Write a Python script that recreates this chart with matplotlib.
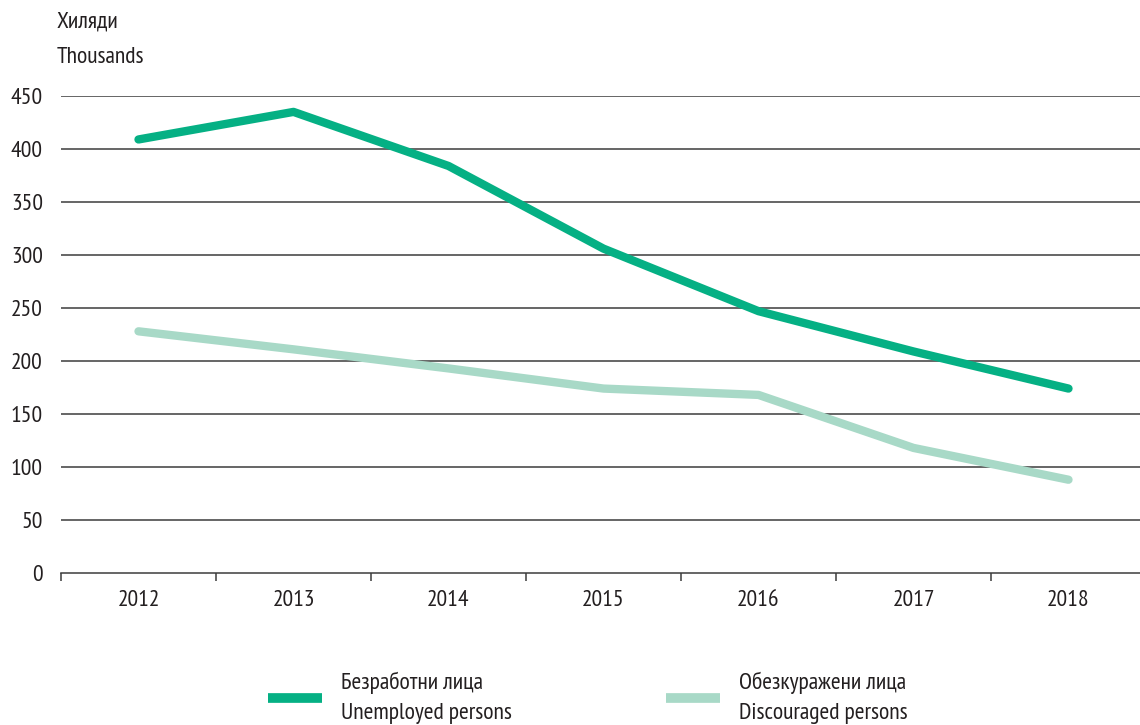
import matplotlib.pyplot as plt
from matplotlib.ticker import FixedLocator

plt.rcParams['font.family'] = ['PT Sans Narrow', 'DejaVu Sans']

color1 = '#05b084'
color2 = '#a8d9c7'
grid_color = '#3c3c3c'
text_color = '#231f20'

years = ['2012', '2013', '2014', '2015', '2016', '2017', '2018']
unemployed = [409, 435, 384, 306, 247, 209, 174]
discouraged = [228, 211, 193, 174, 168, 118, 88]
label1 = 'Безработни лица\nUnemployed persons'
label2 = 'Обезкуражени лица\nDiscouraged persons'
yticks = [0, 50, 100, 150, 200, 250, 300, 350, 400, 450]

fig = plt.figure(figsize=(11.4, 7.25), dpi=100)
ax = fig.add_axes([61 / 1140, 152 / 725, 1085 / 1140, 477 / 725])

xs = list(range(len(years)))
l1, = ax.plot(xs, unemployed, c=color1, lw=6, solid_capstyle='round',
              solid_joinstyle='round', zorder=3)
l2, = ax.plot(xs, discouraged, c=color2, lw=6, solid_capstyle='round',
              solid_joinstyle='round', zorder=3)

ax.set_xlim(-0.5, len(years) - 0.5)
ax.set_ylim(0, 450)
ax.set_yticks(yticks)
ax.set_xticks(xs)
ax.set_xticklabels(years)
ax.xaxis.set_minor_locator(FixedLocator([i - 0.5 for i in range(len(years) + 1)]))

for y in yticks[1:]:
    ax.axhline(y, c=grid_color, lw=1.1, zorder=1)

for s in ['top', 'right', 'left']:
    ax.spines[s].set_visible(False)
ax.spines['bottom'].set_color(grid_color)
ax.spines['bottom'].set_linewidth(1.1)

ax.tick_params(axis='y', length=0, pad=13, labelsize=17, labelcolor=text_color)
ax.tick_params(axis='x', which='major', length=0, pad=12, labelsize=17,
               labelcolor=text_color)
ax.tick_params(axis='x', which='minor', length=6, width=1.1, color=grid_color)

fig.text(57 / 1140, 1 - 40 / 725, 'Хиляди\nThousands', ha='left', va='center',
         fontsize=17, color=text_color, linespacing=1.9)

# two legend blocks placed separately, as in the reference
for line, label, x0 in [(l1, label1, 268 / 1140), (l2, label2, 666 / 1140)]:
    leg = fig.legend([line], [label], loc='center left',
                     bbox_to_anchor=(x0, 1 - 698 / 725), frameon=False,
                     fontsize=17, handlelength=2.3, handletextpad=0.8,
                     borderpad=0, borderaxespad=0, labelcolor=text_color)
    for t in leg.get_texts():
        t.set_linespacing(1.55)
    for h in leg.legend_handles:
        h.set_solid_capstyle('butt')
        h.set_linewidth(7)

fig.savefig('out.png', dpi=100)
